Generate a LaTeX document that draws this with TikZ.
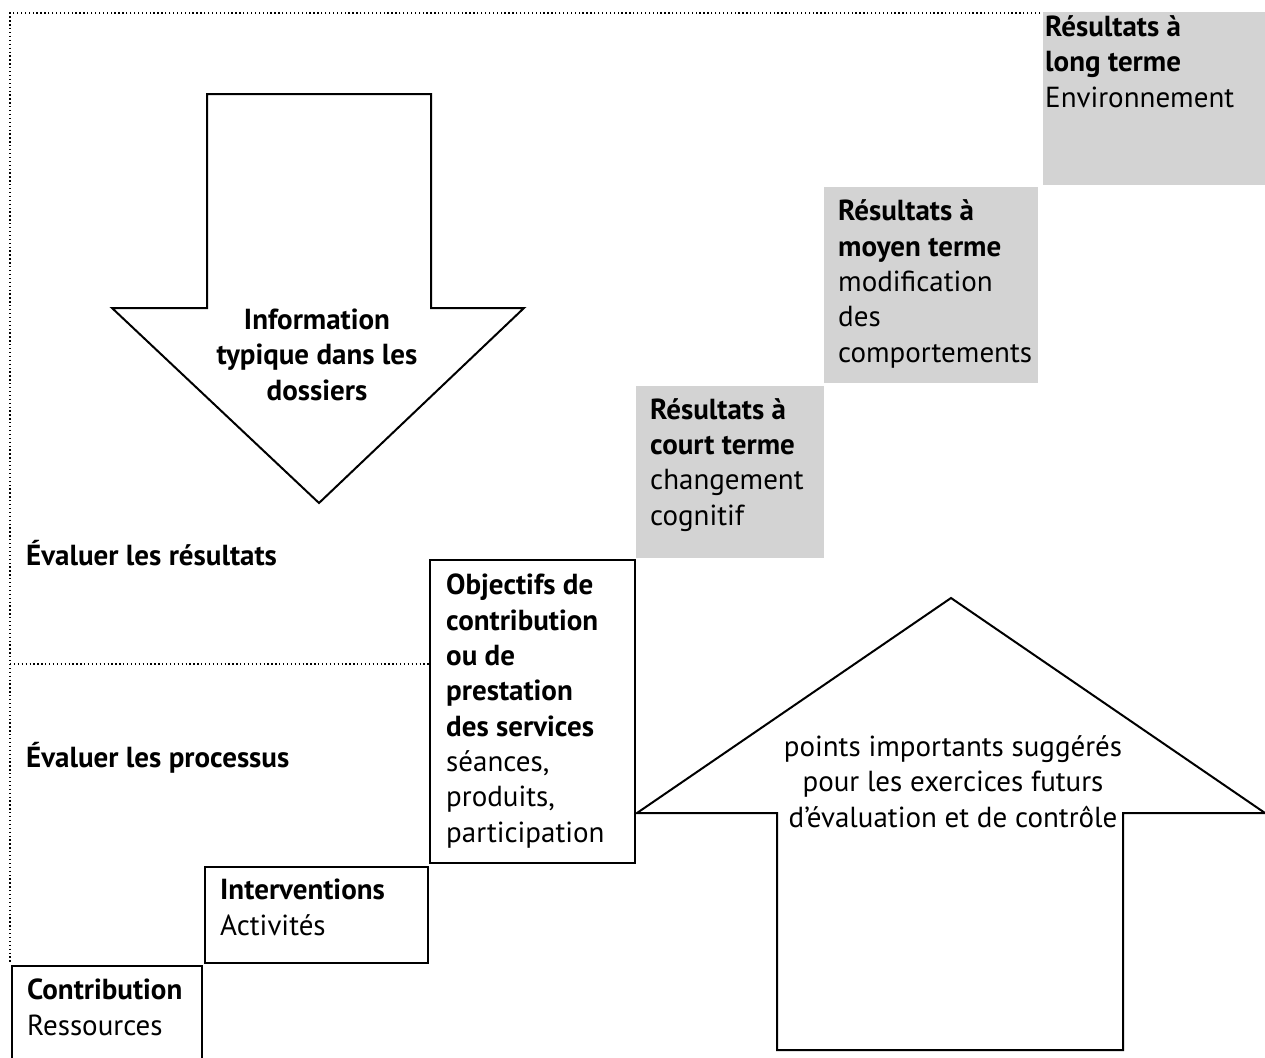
\documentclass[tikz,border=0pt]{standalone}
\usepackage{fontspec}
\setmainfont{PT Sans}
\definecolor{panelgray}{RGB}{211,211,211}
\tikzset{
  x=1pt, y=-1pt,
  % multi-line nodes: the base anchor sits on the last line's baseline
  txt/.style={anchor=base west, inner sep=0pt, align=left,
              font=\fontsize{29}{35.3}\selectfont},
  ctxt/.style={txt, anchor=base, align=center},
  framebox/.style={draw=black, line width=2.6pt, fill=white},
  graybox/.style={fill=panelgray, draw=none},
  bigarrow/.style={draw=black, line width=2pt, fill=white, line join=miter},
  guide/.style={draw=black, line width=1.6pt, dash pattern=on 1.3pt off 2.6pt}
}
\begin{document}
\begin{tikzpicture}
  \clip (0,0) rectangle (1265,1057);

  % dotted frame and separator between the two evaluation zones
  \coordinate (fTR) at (1040,13);
  \coordinate (fTL) at (10,13);
  \coordinate (fBL) at (10,962);
  \coordinate (sepL) at (10,664);
  \coordinate (sepR) at (430,664);
  \draw[guide] (fTR) -- (fTL) -- (fBL);
  \draw[guide] (sepL) -- (sepR);

  % grey result panels
  \path[graybox] (1043,12) rectangle (1268,185);
  \path[graybox] (824,187) rectangle (1038,383);
  \path[graybox] (636,386) rectangle (824,558);

  % framed steps
  \draw[framebox] (12,1065) -- (12,966) -- (202,966) -- (202,1065);
  \draw[framebox] (205,867) rectangle (428,963);
  \draw[framebox] (430,560) rectangle (635,863);

  % downward arrow
  \draw[bigarrow] (207,94) -- (431,94) -- (431,308) -- (524,308)
                  -- (319,503) -- (112,308) -- (207,308) -- cycle;

  % upward arrow
  \draw[bigarrow] (951,598) -- (1265,813) -- (1123,813) -- (1123,1050)
                  -- (777,1050) -- (777,813) -- (637,813) -- cycle;

  % texts
  \node[txt] (longt) at (1045,107)
    {\textbf{Résultats à}\\\textbf{long terme}\\Environnement};
  \node[txt] (moyt) at (838,362)
    {\textbf{Résultats à}\\\textbf{moyen terme}\\modification\\des\\comportements};
  \node[txt] (court) at (650,525)
    {\textbf{Résultats à}\\\textbf{court terme}\\changement\\cognitif};
  \node[txt] (objt) at (446,842)
    {\textbf{Objectifs de}\\\textbf{contribution}\\\textbf{ou de}\\\textbf{prestation}\\\textbf{des services}\\séances,\\produits,\\participation};
  \node[txt] (intv) at (220,935) {\textbf{Interventions}\\Activités};
  \node[txt] (contr) at (27,1035) {\textbf{Contribution}\\Ressources};
  \node[txt] (evres) at (26,565) {\textbf{Évaluer les résultats}};
  \node[txt] (evproc) at (26,767) {\textbf{Évaluer les processus}};
  \node[ctxt] (info) at (317,400)
    {\textbf{Information}\\\textbf{typique dans les}\\\textbf{dossiers}};
  \node[ctxt] (points) at (953,827)
    {points importants suggérés\\pour les exercices futurs\\d’évaluation et de contrôle};
\end{tikzpicture}
\end{document}
